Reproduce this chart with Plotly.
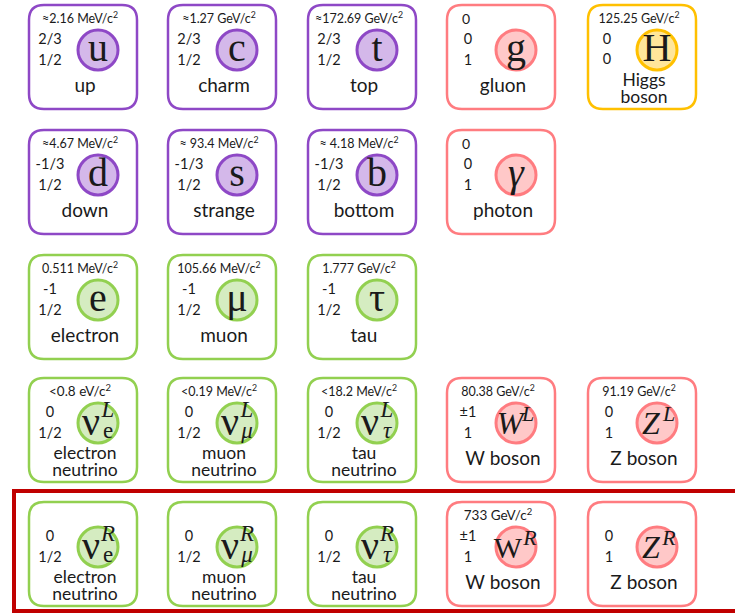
import plotly.graph_objects as go

# ---------------- data ----------------
names = ["up", "charm", "top", "gluon", "Higgs\nboson",
         "down", "strange", "bottom", "photon",
         "electron", "muon", "tau",
         "electron\nneutrino", "muon\nneutrino", "tau\nneutrino", "W boson", "Z boson",
         "electron\nneutrino", "muon\nneutrino", "tau\nneutrino", "W boson", "Z boson"]
masses = ["≈2.16 MeV/c<sup>2</sup>", "≈1.27 GeV/c<sup>2</sup>", "≈172.69 GeV/c<sup>2</sup>", "0", "125.25 GeV/c<sup>2</sup>",
          "≈4.67 MeV/c<sup>2</sup>", "≈ 93.4 MeV/c<sup>2</sup>", "≈ 4.18 MeV/c<sup>2</sup>", "0",
          "0.511 MeV/c<sup>2</sup>", "105.66 MeV/c<sup>2</sup>", "1.777 GeV/c<sup>2</sup>",
          "<0.8 eV/c<sup>2</sup>", "<0.19 MeV/c<sup>2</sup>", "<18.2 MeV/c<sup>2</sup>", "80.38 GeV/c<sup>2</sup>", "91.19 GeV/c<sup>2</sup>",
          "", "", "", "733 GeV/c<sup>2</sup>", ""]
charges = ["2/3", "2/3", "2/3", "0", "0",
           "-1/3", "-1/3", "-1/3", "0",
           "-1", "-1", "-1",
           "0", "0", "0", "±1", "0",
           "0", "0", "0", "±1", "0"]
spins = ["1/2", "1/2", "1/2", "1", "0",
         "1/2", "1/2", "1/2", "1",
         "1/2", "1/2", "1/2",
         "1/2", "1/2", "1/2", "1", "1",
         "1/2", "1/2", "1/2", "1", "1"]
sym_main = ["u", "c", "t", "g", "H",
            "d", "s", "b", "<i>γ</i>",
            "e", "μ", "τ",
            "ν", "ν", "ν", "<i>W</i>", "<i>Z</i>",
            "ν", "ν", "ν", "W", "<i>Z</i>"]
sym_sup = ["", "", "", "", "",
           "", "", "", "",
           "", "", "",
           "<i>L</i>", "<i>L</i>", "<i>L</i>", "<i>L</i>", "<i>L</i>",
           "<i>R</i>", "<i>R</i>", "<i>R</i>", "<i>R</i>", "<i>R</i>"]
sym_sub = ["", "", "", "", "",
           "", "", "", "",
           "", "", "",
           "e", "<i>μ</i>", "<i>τ</i>", "", "",
           "e", "<i>μ</i>", "<i>τ</i>", "", ""]
family = ["quark", "quark", "quark", "gauge", "higgs",
          "quark", "quark", "quark", "gauge",
          "lepton", "lepton", "lepton",
          "lepton", "lepton", "lepton", "gauge", "gauge",
          "lepton", "lepton", "lepton", "gauge", "gauge"]
grid_row = [0, 0, 0, 0, 0,
            1, 1, 1, 1,
            2, 2, 2,
            3, 3, 3, 3, 3,
            4, 4, 4, 4, 4]
grid_col = [0, 1, 2, 3, 4,
            0, 1, 2, 3,
            0, 1, 2,
            0, 1, 2, 3, 4,
            0, 1, 2, 3, 4]

# ---------------- style / layout ----------------
col_left = [29, 168, 308, 447, 588]
row_top = [5, 130, 255, 378, 502]
BW, BH, R = 108, 104, 15
palette = {
    "quark": ("#8e48c6", "#d4b8ea"),
    "lepton": ("#92d050", "#d5ecc1"),
    "gauge": ("#ff7c80", "#ffc8c8"),
    "higgs": ("#ffc000", "#ffe69a"),
}
TXT = "#1a1a1a"
SANS = "Lato"
SERIF = "Liberation Serif"


def rrect(x0, y0, w, h, r):
    x1, y1 = x0 + w, y0 + h
    return (f"M {x0+r},{y0} L {x1-r},{y0} Q {x1},{y0} {x1},{y0+r} "
            f"L {x1},{y1-r} Q {x1},{y1} {x1-r},{y1} L {x0+r},{y1} "
            f"Q {x0},{y1} {x0},{y1-r} L {x0},{y0+r} Q {x0},{y0} {x0+r},{y0} Z")


fig = go.Figure()
shapes = []

bx = [col_left[c] for c in grid_col]
by = [row_top[r] for r in grid_row]

for i in range(len(names)):
    line_c, _ = palette[family[i]]
    shapes.append(dict(type="path", path=rrect(bx[i], by[i], BW, BH, R),
                       line=dict(color=line_c, width=2.5), fillcolor="white", layer="below"))

# red frame around the right-handed row
shapes.append(dict(type="rect", x0=14, x1=745, y0=491, y1=611,
                   line=dict(color="#c00000", width=4), fillcolor="rgba(0,0,0,0)", layer="below"))

# circles
for fam in ["quark", "lepton", "gauge", "higgs"]:
    idx = [i for i in range(len(names)) if family[i] == fam]
    lc, fc = palette[fam]
    fig.add_trace(go.Scatter(
        x=[bx[i] + 69 for i in idx], y=[by[i] + 45 for i in idx],
        mode="markers", hoverinfo="skip",
        marker=dict(size=40, color=fc, line=dict(color=lc, width=3), symbol="circle")))

tx, ty, tt, ts, tf = [], [], [], [], []


def add(x, y, t, size, fam):
    if t == "":
        return
    tx.append(x); ty.append(y); tt.append(t); ts.append(size); tf.append(fam)


for i in range(len(names)):
    x0, y0 = bx[i], by[i]
    if masses[i] == "0":
        add(x0 + 19, y0 + 15, masses[i], 14, SANS)
    else:
        add(x0 + 51, y0 + 15, masses[i], 13.5 if len(masses[i]) < 22 else 12.5, SANS)
    if family[i] == "higgs":
        add(x0 + 19, y0 + 35, charges[i], 14.5, SANS)
        add(x0 + 19, y0 + 55, spins[i], 14.5, SANS)
    else:
        add(x0 + 21, y0 + 35, charges[i], 14.5, SANS)
        add(x0 + 21, y0 + 56, spins[i], 14.5, SANS)
    lines = names[i].split("\n")
    if len(lines) == 1:
        add(x0 + 56, y0 + 82, lines[0], 19, SANS)
    else:
        add(x0 + 56, y0 + 77, lines[0], 17.5, SANS)
        add(x0 + 56, y0 + 94, lines[1], 17.5, SANS)
    cx, cy = x0 + 69, y0 + 45
    if sym_sub[i]:
        add(cx - 7, cy + 2, sym_main[i], 40, SERIF)
        add(cx + 10, cy - 12, sym_sup[i], 23, SERIF)
        add(cx + 10, cy + 9, sym_sub[i], 23, SERIF)
    elif sym_sup[i]:
        upright = not sym_main[i].startswith("<i>")
        add(cx - (8 if upright else 6), cy + 3, sym_main[i], 30 if upright else 32, SERIF)
        add(cx + (14 if upright else 12), cy - 8, sym_sup[i], 22, SERIF)
    else:
        add(cx, cy + 1, sym_main[i], 40, SERIF)

fig.add_trace(go.Scatter(
    x=tx, y=ty, text=tt, mode="text", hoverinfo="skip", textposition="middle center",
    textfont=dict(size=ts, family=tf, color=TXT)))

fig.update_layout(
    width=735, height=613, margin=dict(l=0, r=0, t=0, b=0),
    paper_bgcolor="white", plot_bgcolor="white", showlegend=False,
    shapes=shapes,
    xaxis=dict(range=[0, 735], visible=False, fixedrange=True),
    yaxis=dict(range=[613, 0], visible=False, fixedrange=True),
)

fig.write_html("out.html", config={"displayModeBar": False},
               post_script="document.body.style.margin='0';document.body.style.overflow='hidden';")
